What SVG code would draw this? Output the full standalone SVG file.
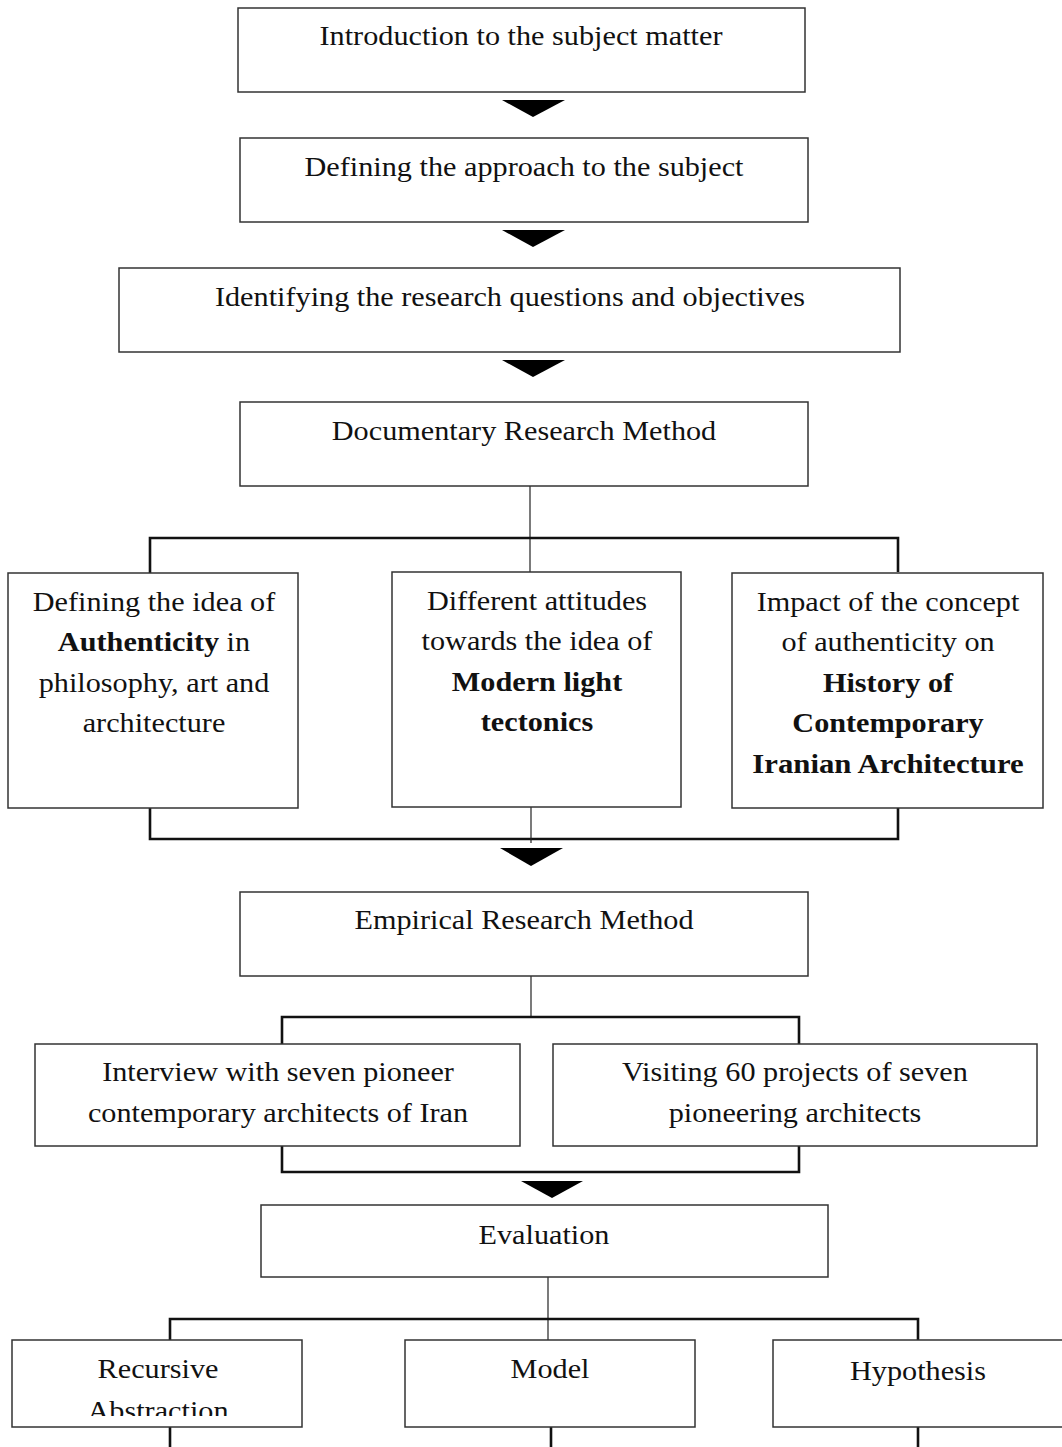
<svg xmlns="http://www.w3.org/2000/svg" width="1062" height="1447" viewBox="0 0 1062 1447">
<style>
.box{fill:#fff;stroke:#333;stroke-width:1.5}
.t{font-family:"Liberation Serif","Times New Roman",serif;font-size:27px;fill:#111;text-anchor:middle}
.b{font-weight:bold}
.thin{stroke:#222;stroke-width:1.2;fill:none}
.thick{stroke:#111;stroke-width:2.6;fill:none}
.arr{fill:#000}
</style>
<defs>
<clipPath id="clipRA"><rect x="12" y="1340" width="290" height="76"/></clipPath>
</defs>
<rect width="1062" height="1447" fill="#fff"/>
<g id="connectors">
<polygon class="arr" points="502,100 565,100 533,117"/>
<polygon class="arr" points="502,230 565,230 533,247"/>
<polygon class="arr" points="502,360 565,360 533,377"/>
<line class="thin" x1="530" y1="486" x2="530" y2="572"/>
<polyline class="thick" points="150,573 150,538 898,538 898,572"/>
<polyline class="thick" points="150,808 150,839 898,839 898,808"/>
<line class="thin" x1="531" y1="807" x2="531" y2="843"/>
<polygon class="arr" points="500,848 563,848 531,866"/>
<line class="thin" x1="531" y1="976" x2="531" y2="1017"/>
<polyline class="thick" points="282,1044 282,1017 799,1017 799,1044"/>
<polyline class="thick" points="282,1146 282,1172 799,1172 799,1146"/>
<polygon class="arr" points="521,1181 583,1181 552,1198"/>
<line class="thin" x1="548" y1="1273" x2="548" y2="1340"/>
<polyline class="thick" points="170,1340 170,1319 918,1319 918,1340"/>
<line class="thick" x1="170" y1="1427" x2="170" y2="1447"/>
<line class="thick" x1="551" y1="1427" x2="551" y2="1447"/>
<line class="thick" x1="918" y1="1427" x2="918" y2="1447"/>
</g>
<g id="n1"><rect class="box" x="238" y="8" width="567" height="84"/><text class="t" transform="translate(521,45) scale(1.12,1)">Introduction to the subject matter</text></g>
<g id="n2"><rect class="box" x="240" y="138" width="568" height="84"/><text class="t" transform="translate(524,176) scale(1.12,1)">Defining the approach to the subject</text></g>
<g id="n3"><rect class="box" x="119" y="268" width="781" height="84"/><text class="t" transform="translate(510,306) scale(1.12,1)">Identifying the research questions and objectives</text></g>
<g id="n4"><rect class="box" x="240" y="402" width="568" height="84"/><text class="t" transform="translate(524,440) scale(1.12,1)">Documentary Research Method</text></g>
<g id="n5"><rect class="box" x="8" y="573" width="290" height="235"/>
<text class="t" transform="translate(154,611) scale(1.12,1)">Defining the idea of</text>
<text class="t" transform="translate(154,651) scale(1.12,1)"><tspan class="b">Authenticity</tspan> in</text>
<text class="t" transform="translate(154,692) scale(1.12,1)">philosophy, art and</text>
<text class="t" transform="translate(154,732) scale(1.12,1)">architecture</text></g>
<g id="n6"><rect class="box" x="392" y="572" width="289" height="235"/>
<text class="t" transform="translate(537,610) scale(1.12,1)">Different attitudes</text>
<text class="t" transform="translate(537,650) scale(1.12,1)">towards the idea of</text>
<text class="t b" transform="translate(537,691) scale(1.12,1)">Modern light</text>
<text class="t b" transform="translate(537,731) scale(1.12,1)">tectonics</text></g>
<g id="n7"><rect class="box" x="732" y="573" width="311" height="235"/>
<text class="t" transform="translate(888,611) scale(1.12,1)">Impact of the concept</text>
<text class="t" transform="translate(888,651) scale(1.12,1)">of authenticity on</text>
<text class="t b" transform="translate(888,692) scale(1.12,1)">History of</text>
<text class="t b" transform="translate(888,732) scale(1.12,1)">Contemporary</text>
<text class="t b" transform="translate(888,773) scale(1.14,1)">Iranian Architecture</text></g>
<g id="n8"><rect class="box" x="240" y="892" width="568" height="84"/><text class="t" transform="translate(524,929) scale(1.12,1)">Empirical Research Method</text></g>
<g id="n9"><rect class="box" x="35" y="1044" width="485" height="102"/>
<text class="t" transform="translate(278,1081) scale(1.12,1)">Interview with seven pioneer</text>
<text class="t" transform="translate(278,1122) scale(1.12,1)">contemporary architects of Iran</text></g>
<g id="n10"><rect class="box" x="553" y="1044" width="484" height="102"/>
<text class="t" transform="translate(795,1081) scale(1.12,1)">Visiting 60 projects of seven</text>
<text class="t" transform="translate(795,1122) scale(1.12,1)">pioneering architects</text></g>
<g id="n11"><rect class="box" x="261" y="1205" width="567" height="72"/><text class="t" transform="translate(544,1244) scale(1.12,1)">Evaluation</text></g>
<g id="n12"><rect class="box" x="12" y="1340" width="290" height="87"/>
<text class="t" transform="translate(158,1378) scale(1.12,1)">Recursive</text>
<g clip-path="url(#clipRA)"><text class="t" transform="translate(158,1420) scale(1.12,1)">Abstraction</text></g></g>
<g id="n13"><rect class="box" x="405" y="1340" width="290" height="87"/><text class="t" transform="translate(550,1378) scale(1.12,1)">Model</text></g>
<g id="n14"><rect class="box" x="773" y="1340" width="295" height="87"/><text class="t" transform="translate(918,1380) scale(1.12,1)">Hypothesis</text></g>
</svg>
